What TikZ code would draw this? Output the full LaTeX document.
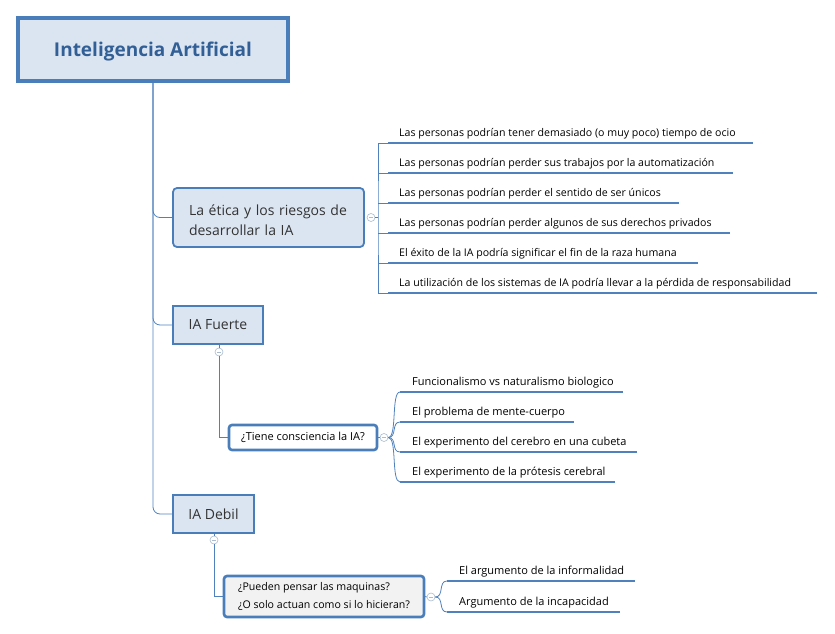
\documentclass[tikz,border=0pt]{standalone}
\usepackage{fontspec}
\setmainfont{Open Sans}
\definecolor{bordblue}{HTML}{4A7EBB}
\definecolor{lineblue}{HTML}{4F81BD}
\definecolor{fillblue}{HTML}{DBE5F1}
\definecolor{roottext}{HTML}{325F95}
\definecolor{txt}{HTML}{333333}
\definecolor{togg}{HTML}{A9BCD0}
\begin{document}
\begin{tikzpicture}[x=1pt,y=-1pt,
  rootbox/.style={draw=bordblue,line width=4pt,fill=fillblue,minimum width=270pt,minimum height=63pt,inner sep=0pt,text=roottext,font=\fontsize{19}{22}\selectfont\bfseries},
  mainbox/.style={draw=bordblue,line width=1.8pt,fill=fillblue,inner sep=0pt,text=txt,font=\fontsize{14}{20}\selectfont},
  qbox/.style={draw=bordblue,line width=2.6pt,rounded corners=3pt,inner sep=0pt,text=black},
  leaf/.style={anchor=south west,inner sep=0pt,text=black,font=\fontsize{10.6}{12}\selectfont},
  leafb/.style={leaf,font=\fontsize{11}{12}\selectfont},
  uline/.style={draw=lineblue,line width=2.6pt},
  conn/.style={draw=lineblue,line width=0.8pt},
  toggle/.style={circle,draw=togg,fill=white,line width=0.6pt,minimum size=8pt,inner sep=0pt,
    path picture={\draw[togg,line width=0.6pt]([xshift=-2pt]path picture bounding box.center)--([xshift=2pt]path picture bounding box.center);}}
]
\useasboundingbox (0,0) rectangle (835,634);

% root
\node[rootbox] (root) at (153,49.5) {\raisebox{-2.5pt}[\height][\depth]{Inteligencia Artificial}};
\coordinate (trunk) at (153,83);

% main nodes
\node[mainbox,rounded corners=4pt,minimum height=59pt,text width=159pt,inner xsep=16pt,align=left] (n1) at (268.5,217.5) {\rule{0pt}{17pt}La ética y los riesgos de\\desarrollar la IA};
\node[mainbox,minimum width=90pt,minimum height=38pt] (n2) at (218,325) {IA Fuerte};
\node[mainbox,minimum width=81pt,minimum height=38pt] (n3) at (213.5,514) {IA Debil};

\draw[conn,rounded corners=7pt] (trunk) |- (n1.west);
\draw[conn,rounded corners=7pt] (trunk) |- (n2.west);
\draw[conn,rounded corners=7pt] (trunk) |- (n3.west);

% ---- ethics children
\node[toggle] (t1) at (371,217.5) {};
\coordinate (b1) at (378,217.5);
\draw[conn] (t1.east) -- (b1);
\foreach \i/\y/\e in {1/143/753,2/173/733,3/203/679,4/233/730,5/263/698,6/293/817}{
  \coordinate (e\i s) at (388,\y);
  \coordinate (e\i e) at (\e,\y);
  \draw[uline] (e\i s) -- (e\i e);
}
\draw[conn] (e1s) -| (b1) |- (e6s);
\foreach \i in {2,3,4,5}{ \draw[conn] (e\i s) -- (b1 |- e\i s); }
\node[leaf] (l1) at (399,139) {Las personas podrían tener demasiado (o muy poco) tiempo de ocio};
\node[leaf] (l2) at (399,169) {Las personas podrían perder sus trabajos por la automatización};
\node[leaf] (l3) at (399,199) {Las personas podrían perder el sentido de ser únicos};
\node[leaf] (l4) at (399,229) {Las personas podrían perder algunos de sus derechos privados};
\node[leaf] (l5) at (399,259) {El éxito de la IA podría significar el fin de la raza humana};
\node[leaf] (l6) at (399,289) {La utilización de los sistemas de IA podría llevar a la pérdida de responsabilidad};

% ---- IA Fuerte
\node[toggle] (t2) at (219,352) {};
\draw[conn] (n2.south -| t2) -- (t2.north);
\node[qbox,fill=white,minimum width=148pt,minimum height=25pt,font=\fontsize{11}{18}\selectfont] (q1) at (303,437.5) {¿Tiene consciencia la IA?};
\draw[conn] (t2.south) |- (q1.west);
\node[toggle] (t3) at (384,437.5) {};
\draw[conn] (q1.east) -- (t3.west);
\foreach \i/\y/\e in {1/392/623,2/422/574,3/452/637,4/482/615}{
  \coordinate (f\i s) at (400,\y);
  \coordinate (f\i e) at (\e,\y);
  \draw[uline] (f\i s) -- (f\i e);
  \draw[conn] (t3.east) .. controls +(9,0) and +(-9,0) .. (f\i s);
}
\node[leafb] (m1) at (412,388) {Funcionalismo vs naturalismo biologico};
\node[leafb] (m2) at (412,418) {El problema de mente-cuerpo};
\node[leafb] (m3) at (412,448) {El experimento del cerebro en una cubeta};
\node[leafb] (m4) at (412,478) {El experimento de la prótesis cerebral};

% ---- IA Debil
\node[toggle] (t4) at (214,540) {};
\draw[conn] (n3.south -| t4) -- (t4.north);
\node[qbox,fill=black!5,minimum width=200pt,minimum height=41pt,align=left,font=\fontsize{10.6}{18}\selectfont] (q2) at (324,596.5) {¿Pueden pensar las maquinas?\\¿O solo actuan como si lo hicieran?};
\draw[conn] (t4.south) |- (q2.west);
\node[toggle] (t5) at (431,597) {};
\draw[conn] (q2.east) -- (t5.west);
\foreach \i/\y/\e in {1/581/635,2/612/620}{
  \coordinate (g\i s) at (447,\y);
  \coordinate (g\i e) at (\e,\y);
  \draw[uline] (g\i s) -- (g\i e);
  \draw[conn] (t5.east) .. controls +(9,0) and +(-9,0) .. (g\i s);
}
\node[leafb] (k1) at (459,577) {El argumento de la informalidad};
\node[leafb] (k2) at (459,608) {Argumento de la incapacidad};
\end{tikzpicture}
\end{document}
